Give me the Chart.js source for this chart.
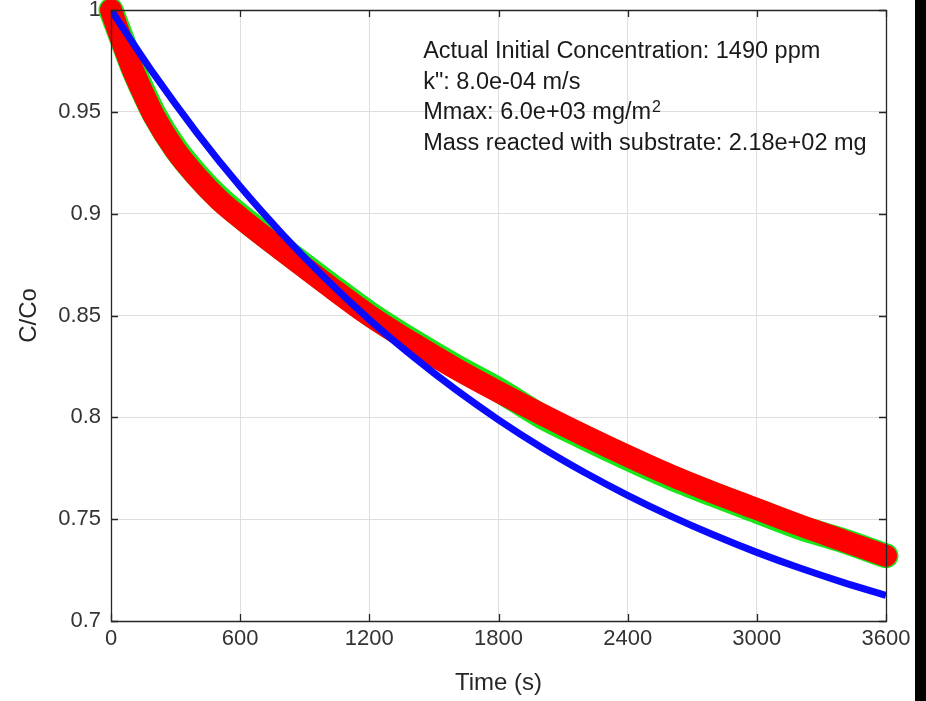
<!DOCTYPE html>
<html>
<head>
<meta charset="utf-8">
<script src="https://cdn.jsdelivr.net/npm/chart.js@4.4.1/dist/chart.umd.min.js"></script>
<style>
  html, body { margin: 0; padding: 0; background: #ffffff; }
  #wrap { position: relative; width: 926px; height: 701px; overflow: hidden; background: #ffffff; }
  #c { position: absolute; left: 0; top: 0; }
  #edge { position: absolute; left: 915px; top: 0; width: 11px; height: 701px; background: #000000; }
</style>
</head>
<body>
<div id="wrap">
  <canvas id="c" width="926" height="701"></canvas>
  <div id="edge"></div>
</div>
<script>
// ---- data ----
const measuredTimes = [0, 50, 100, 150, 200, 300, 400, 500, 600, 800, 1000, 1200, 1400, 1600, 1800, 2000, 2200, 2400, 2600, 2800, 3000, 3200, 3400, 3600];
const measuredRed   = [1.000, 0.985, 0.971, 0.959, 0.948, 0.931, 0.918, 0.907, 0.898, 0.8815, 0.8655, 0.850, 0.8365, 0.824, 0.8125, 0.8015, 0.791, 0.781, 0.7715, 0.763, 0.755, 0.747, 0.7395, 0.732];
const measuredGreen = [1.000, 0.986, 0.972, 0.960, 0.949, 0.932, 0.919, 0.908, 0.899, 0.8825, 0.8665, 0.851, 0.8375, 0.825, 0.8135, 0.8005, 0.790, 0.780, 0.7705, 0.762, 0.754, 0.746, 0.7395, 0.732];
const modelTimes = [0, 200, 400, 600, 800, 1000, 1200, 1400, 1600, 1800, 2000, 2200, 2400, 2600, 2800, 3000, 3200, 3400, 3600];
const modelBlue  = [1.0000, 0.9684, 0.9396, 0.9133, 0.8895, 0.8678, 0.8480, 0.8301, 0.8137, 0.7988, 0.7852, 0.7729, 0.7617, 0.7515, 0.7422, 0.7337, 0.7260, 0.7190, 0.7126];
const xTickValues = [0, 600, 1200, 1800, 2400, 3000, 3600];
const xTickLabels = ['0', '600', '1200', '1800', '2400', '3000', '3600'];
const yTickValues = [0.7, 0.75, 0.8, 0.85, 0.9, 0.95, 1];
const yTickLabels = ['0.7', '0.75', '0.8', '0.85', '0.9', '0.95', '1'];
const xAxisTitle = 'Time (s)';
const yAxisTitle = 'C/Co';
const annotationLines = [
  'Actual Initial Concentration: 1490 ppm',
  'k": 8.0e-04 m/s',
  'Mmax: 6.0e+03 mg/m',
  'Mass reacted with substrate: 2.18e+02 mg'
];
const annotationSuperscript = ['', '', '2', ''];
const annotationAnchor = { x: 1450, y: 0.9764 };

// ---- chart ----
const toPoints = (xs, ys) => xs.map((t, i) => ({ x: t, y: ys[i] }));
const FONT = "'Liberation Sans', Arial, Helvetica, sans-serif";

const boxPlugin = {
  id: 'matlabBox',
  afterDatasetsDraw(chart) {
    const { ctx, chartArea } = chart;
    const { left, right, top, bottom } = chartArea;
    const xs = chart.scales.x, ys = chart.scales.y;
    ctx.save();
    ctx.strokeStyle = '#262626';
    ctx.lineWidth = 1.3;
    ctx.beginPath();
    ctx.rect(Math.round(left) + 0.5, Math.round(top) + 0.5, Math.round(right - left), Math.round(bottom - top));
    ctx.stroke();
    const tl = 7;
    ctx.beginPath();
    xTickValues.forEach(v => {
      const px = Math.round(xs.getPixelForValue(v)) + 0.5;
      ctx.moveTo(px, bottom); ctx.lineTo(px, bottom - tl);
      ctx.moveTo(px, top); ctx.lineTo(px, top + tl);
    });
    yTickValues.forEach(v => {
      const py = Math.round(ys.getPixelForValue(v)) + 0.5;
      ctx.moveTo(left, py); ctx.lineTo(left + tl, py);
      ctx.moveTo(right, py); ctx.lineTo(right - tl, py);
    });
    ctx.stroke();
    ctx.restore();
  },
  afterDraw(chart) {
    const { ctx } = chart;
    const xs = chart.scales.x, ys = chart.scales.y;
    const x0 = xs.getPixelForValue(annotationAnchor.x);
    const y0 = ys.getPixelForValue(annotationAnchor.y);
    const lh = 30.7;
    ctx.save();
    ctx.fillStyle = '#1a1a1a';
    ctx.textAlign = 'left';
    ctx.textBaseline = 'alphabetic';
    annotationLines.forEach((line, i) => {
      const y = y0 + i * lh;
      ctx.font = '23.5px ' + FONT;
      ctx.fillText(line, x0, y);
      if (annotationSuperscript[i]) {
        const w = ctx.measureText(line).width;
        ctx.font = '16px ' + FONT;
        ctx.fillText(annotationSuperscript[i], x0 + w + 1, y - 7);
      }
    });
    ctx.restore();
  }
};

new Chart(document.getElementById('c'), {
  type: 'line',
  data: {
    datasets: [
      {
        label: 'Model',
        data: toPoints(modelTimes, modelBlue),
        borderColor: '#0a0aff',
        borderWidth: 7,
        pointRadius: 0,
        cubicInterpolationMode: 'monotone',
        borderCapStyle: 'butt',
        order: 0
      },
      {
        label: 'Measured (red)',
        data: toPoints(measuredTimes, measuredRed),
        borderColor: '#ff0000',
        borderWidth: 22,
        pointRadius: 0,
        cubicInterpolationMode: 'monotone',
        borderCapStyle: 'round',
        borderJoinStyle: 'round',
        clip: false,
        order: 1
      },
      {
        label: 'Measured (green)',
        data: toPoints(measuredTimes, measuredGreen),
        borderColor: '#19e619',
        borderWidth: 25,
        pointRadius: 0,
        cubicInterpolationMode: 'monotone',
        borderCapStyle: 'round',
        borderJoinStyle: 'round',
        clip: false,
        order: 2
      }
    ]
  },
  options: {
    responsive: false,
    animation: false,
    devicePixelRatio: 1,
    layout: { padding: { top: 10, right: 40, left: 0, bottom: 0 } },
    plugins: { legend: { display: false }, tooltip: { enabled: false }, title: { display: false } },
    scales: {
      x: {
        type: 'linear',
        min: 0, max: 3600,
        afterFit(scale) { scale.height = 80; scale.paddingLeft = 0; scale.paddingRight = 0; },
        afterBuildTicks(scale) { scale.ticks = xTickValues.map(v => ({ value: v })); },
        ticks: {
          autoSkip: false, maxRotation: 0, padding: 5,
          color: '#333333',
          font: { family: FONT, size: 22 },
          callback: (v) => xTickLabels[xTickValues.indexOf(v)]
        },
        grid: { color: '#dedede', lineWidth: 1, drawTicks: false },
        border: { display: false },
        title: { display: true, text: xAxisTitle, color: '#262626', font: { family: FONT, size: 24 }, padding: { top: 0, bottom: 3 } }
      },
      y: {
        type: 'linear',
        min: 0.7, max: 1,
        afterFit(scale) { scale.width = 111; scale.paddingTop = 0; scale.paddingBottom = 0; },
        afterBuildTicks(scale) { scale.ticks = yTickValues.map(v => ({ value: v })); },
        ticks: {
          autoSkip: false, padding: 10,
          color: '#333333',
          font: { family: FONT, size: 22 },
          callback: (v) => yTickLabels[yTickValues.findIndex(t => Math.abs(t - v) < 1e-9)]
        },
        grid: { color: '#dedede', lineWidth: 1, drawTicks: false },
        border: { display: false },
        title: { display: true, text: yAxisTitle, color: '#262626', font: { family: FONT, size: 24 }, padding: { top: 15, bottom: 0 } }
      }
    }
  },
  plugins: [boxPlugin]
});
</script>
</body>
</html>
